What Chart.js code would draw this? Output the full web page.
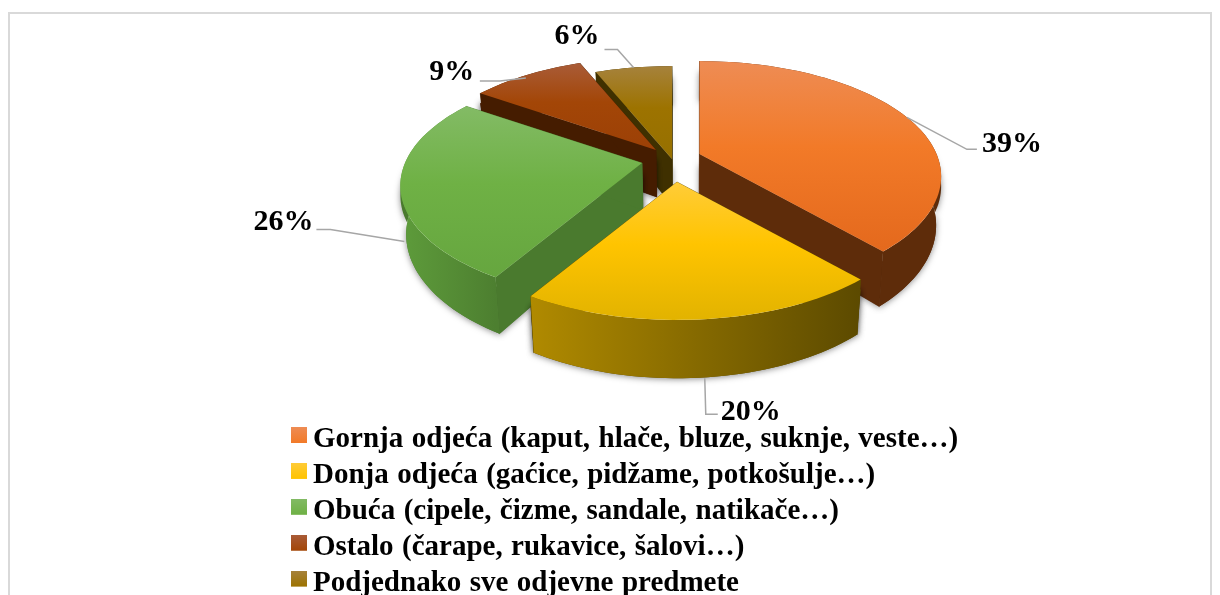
<!DOCTYPE html>
<html>
<head>
<meta charset="utf-8">
<style>
html,body{margin:0;padding:0;background:#fff;overflow:hidden;width:1220px;height:595px}
#frame{position:absolute;left:8px;top:12px;width:1204px;height:640px;border:2px solid #D9D9D9;box-sizing:border-box}
canvas{position:absolute;left:0;top:0}
</style>
<script src="https://cdn.jsdelivr.net/npm/chart.js@4"></script>
</head>
<body>
<div id="frame"></div>
<canvas id="c" width="1220" height="595"></canvas>
<script>
// ---- data ----
const categories = [
  'Gornja odjeća (kaput, hlače, bluze, suknje, veste…)',
  'Donja odjeća (gaćice, pidžame, potkošulje…)',
  'Obuća (cipele, čizme, sandale, natikače…)',
  'Ostalo (čarape, rukavice, šalovi…)',
  'Podjednako sve odjevne predmete'
];
const shares = [38.5, 20.1, 26.0, 9.2, 6.2];

// ---- colours ----
const topLight = ['#EE8C54', '#FFCC38', '#83BB65', '#A95C38', '#A6823C'];
const topBase  = ['#F27A28', '#FFC400', '#6FB145', '#A34607', '#9D7300'];
const topDark  = ['#E4691D', '#E2B300', '#66A63F', '#9C4006', '#967000'];
const rimLeft  = ['#5E2C0A', '#B08A00', '#5E9C3B', '#451C00', '#3F3000'];
const rimRight = ['#5E2C0A', '#5C4A00', '#4D7F30', '#451C00', '#3F3000'];
const wallTone = ['#5E2C0A', '#5C4A00', '#4A7A2E', '#451C00', '#3F3000'];

// ---- 3-D projection and layout styling (pixels) ----
const pieCentre = {x: 676, y: 160};
const view = {rx: 237, ry: 111, persp: 0.195, depth: 47, baseShrink: 0.98, shrinkX: 690, shadowInset: 10};
const explodeX = [23.5, 1, -34, -20, -4];
const explodeY = [-6, 22, 3, -10, -1];
const paintOrder = [4, 3, 0, 2, 1];
const labelFont = 'bold 30px "Liberation Serif"';
const leaderColor = '#A6A6A6';
// anchor shift, elbow 1 and 2, text centre, all relative to the projected rim point
const anchorShift = [[0, 0], [1, 59], [4, 54], [-1, 3], [0, 0]];
const elbowA = [[60, 32], [1, 36], [-74, -12], [-26, 3], [-16, -18]];
const elbowB = [[70, 32], [13, 36], [-88, -12], [-46, 3], [-29, -18]];
const textAt = [[105, 27], [46, 34], [-121, -19], [-74, -6], [-56.5, -31]];

function project(i, angle, r) {
  const u = r * Math.cos(angle), v = r * Math.sin(angle);
  const w = 1 - view.persp * v;
  const top = {
    x: pieCentre.x + explodeX[i] + view.rx * u / w,
    y: pieCentre.y + explodeY[i] + view.ry * v / w
  };
  const bottom = {
    x: view.shrinkX + (top.x - view.shrinkX) * view.baseShrink,
    y: top.y + view.depth / w
  };
  return {top, bottom};
}
function rimAngles(el) {
  const out = [];
  const n = Math.max(2, Math.ceil((el.endAngle - el.startAngle) / 0.03));
  for (let k = 0; k <= n; k++) out.push(el.startAngle + (el.endAngle - el.startAngle) * k / n);
  return out;
}
function tracePoly(ctx, pts) {
  ctx.beginPath();
  pts.forEach((p, k) => k ? ctx.lineTo(p.x, p.y) : ctx.moveTo(p.x, p.y));
  ctx.closePath();
}
const lowered = p => ({x: p.x, y: p.y + view.shadowInset});
function drawSlice(ctx, el, i) {
  const rim = rimAngles(el).map(a => project(i, a, 1));
  const apex = project(i, 0, 0);
  const first = rim[0], last = rim[rim.length - 1];
  const rimPoly = rim.map(p => p.top).concat(rim.map(p => p.bottom).reverse());
  const walls = [
    [apex.top, first.top, first.bottom, apex.bottom],
    [apex.top, last.top, last.bottom, apex.bottom]
  ];
  // soft shadow cast by the lower part of the side walls only
  ctx.save();
  ctx.shadowColor = 'rgba(0,0,0,0.45)';
  ctx.shadowBlur = 6;
  ctx.shadowOffsetY = 1;
  ctx.fillStyle = wallTone[i];
  walls.forEach(q => {
    tracePoly(ctx, [lowered(q[0]), lowered(q[1]), q[2], q[3]]);
    ctx.fill();
  });
  tracePoly(ctx, rim.map(p => lowered(p.top)).concat(rim.map(p => p.bottom).reverse()));
  ctx.fill();
  ctx.restore();

  ctx.fillStyle = wallTone[i];
  walls.forEach(q => { tracePoly(ctx, q); ctx.fill(); ctx.strokeStyle = wallTone[i]; ctx.lineWidth = 0.5; ctx.stroke(); });

  const xs = rim.map(p => p.top.x);
  const grad = ctx.createLinearGradient(Math.min(...xs), 0, Math.max(...xs), 0);
  grad.addColorStop(0, rimLeft[i]);
  grad.addColorStop(1, rimRight[i]);
  ctx.fillStyle = grad;
  tracePoly(ctx, rimPoly); ctx.fill();

  const face = [apex.top].concat(rim.map(p => p.top));
  const ys = face.map(p => p.y);
  const g = ctx.createLinearGradient(0, Math.min(...ys), 0, Math.max(...ys));
  g.addColorStop(0, topLight[i]);
  g.addColorStop(0.45, topBase[i]);
  g.addColorStop(1, topDark[i]);
  ctx.fillStyle = g;
  tracePoly(ctx, face); ctx.fill();
}
function drawLabels(ctx, arcs) {
  arcs.forEach((el, i) => {
    const mid = (el.startAngle + el.endAngle) / 2;
    const p = project(i, mid, 1).top;
    const a = {x: p.x + anchorShift[i][0], y: p.y + anchorShift[i][1]};
    ctx.strokeStyle = leaderColor;
    ctx.lineWidth = 1.5;
    ctx.beginPath();
    ctx.moveTo(a.x, a.y);
    ctx.lineTo(a.x + elbowA[i][0], a.y + elbowA[i][1]);
    ctx.lineTo(a.x + elbowB[i][0], a.y + elbowB[i][1]);
    ctx.stroke();
    ctx.fillStyle = '#000';
    ctx.font = labelFont;
    ctx.textAlign = 'center';
    ctx.textBaseline = 'middle';
    ctx.fillText(Math.round(shares[i]) + '%', a.x + textAt[i][0], a.y + textAt[i][1]);
  });
}
function swatch(i) {
  const s = document.createElement('canvas');
  s.width = 18; s.height = 25;
  const x = s.getContext('2d');
  const g = x.createLinearGradient(0, 0, 0, 16);
  g.addColorStop(0, topLight[i]);
  g.addColorStop(1, topBase[i]);
  x.fillStyle = g;
  x.fillRect(2, 0, 16, 16);
  return s;
}
const pie3d = {
  id: 'pie3d',
  beforeDatasetDraw() { return false; },
  afterLayout(chart) {
    const l = chart.legend;
    l.left = 290.6; l.right = 1200; l.top = 418.1; l.bottom = 700;
  },
  beforeDraw(chart) { chart.ctx.wordSpacing = '1.2px'; },
  afterDatasetsDraw(chart) {
    const ctx = chart.ctx;
    const arcs = chart.getDatasetMeta(0).data;
    ctx.save();
    paintOrder.forEach(i => drawSlice(ctx, arcs[i], i));
    drawLabels(ctx, arcs);
    ctx.restore();
  }
};
new Chart(document.getElementById('c'), {
  type: 'pie',
  data: {
    labels: categories,
    datasets: [{data: shares, backgroundColor: topBase, borderWidth: 0}]
  },
  plugins: [pie3d],
  options: {
    responsive: false,
    animation: false,
    rotation: 0,
    layout: {padding: 0},
    plugins: {
      tooltip: {enabled: false},
      title: {display: false},
      legend: {
        display: true,
        position: 'left',
        align: 'start',
        labels: {
          color: '#000',
          font: {family: '"Liberation Serif"', size: 29, weight: 'bold'},
          padding: 6.9,
          usePointStyle: true,
          pointStyleWidth: 1,
          boxHeight: 16,
          generateLabels(chart) {
            return categories.map((t, i) => ({
              text: t, index: i, pointStyle: swatch(i), fillStyle: topBase[i],
              strokeStyle: 'transparent', lineWidth: 0, hidden: false, fontColor: '#000'
            }));
          }
        }
      }
    }
  }
});
</script>
</body>
</html>
